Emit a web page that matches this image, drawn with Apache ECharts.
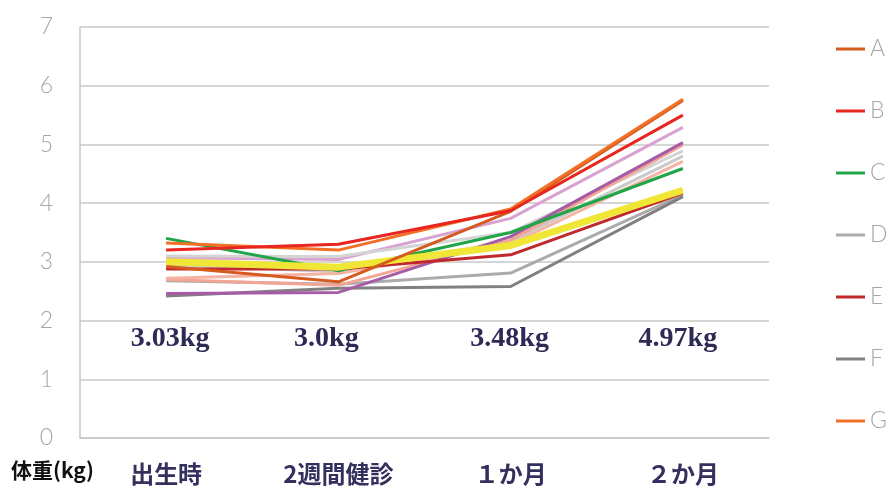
<!DOCTYPE html>
<html><head><meta charset="utf-8">
<script src="https://cdn.jsdelivr.net/npm/echarts@6/dist/echarts.min.js"></script>
<style>html,body{margin:0;padding:0;background:#fff}#c{width:887px;height:488px}</style>
</head><body><div id="c"></div>
<script>
const categories = ['出生時', '2週間健診', '１か月', '２か月'];
const legendNames = ['A', 'B', 'C', 'D', 'E', 'F', 'G'];
const seriesA = [2.92, 2.66, 3.86, 5.75];
const seriesB = [3.20, 3.30, 3.87, 5.50];
const seriesC = [3.40, 2.85, 3.50, 4.59];
const seriesD = [2.68, 2.62, 2.81, 4.14];
const seriesE = [2.88, 2.88, 3.12, 4.17];
const seriesF = [2.42, 2.55, 2.58, 4.11];
const seriesG = [3.32, 3.20, 3.90, 5.77];
const seriesH = [3.07, 3.04, 3.74, 5.29];
const seriesI = [2.46, 2.48, 3.43, 5.03];
const seriesJ = [3.10, 3.09, 3.50, 4.89];
const seriesK = [2.95, 2.83, 3.35, 4.80];
const seriesL = [2.70, 2.60, 3.37, 4.99];
const seriesM = [2.72, 2.80, 3.30, 4.71];
const seriesN = [3.00, 2.91, 3.28, 4.22];
const averageLabels = ['3.03kg', '3.0kg', '3.48kg', '4.97kg'];
const averageLabelLevel = [1.69, 1.69, 1.69, 1.69];

const lines = [
  {name: 'H', data: seriesH, color: '#d9a3d1', w: 3},
  {name: 'J', data: seriesJ, color: '#d4d4d4', w: 3},
  {name: 'K', data: seriesK, color: '#cacaca', w: 3},
  {name: 'D', data: seriesD, color: '#ababab', w: 3},
  {name: 'F', data: seriesF, color: '#808080', w: 3},
  {name: 'L', data: seriesL, color: '#f3a595', w: 3},
  {name: 'M', data: seriesM, color: '#f5b3a3', w: 3},
  {name: 'I', data: seriesI, color: '#a65ba6', w: 3},
  {name: 'C', data: seriesC, color: '#20a548', w: 3},
  {name: 'E', data: seriesE, color: '#c0282c', w: 3},
  {name: 'N', data: seriesN, color: '#f0e636', w: 7},
  {name: 'A', data: seriesA, color: '#d55a1e', w: 3},
  {name: 'G', data: seriesG, color: '#f26f26', w: 3},
  {name: 'B', data: seriesB, color: '#e8251f', w: 3}
];
const labelOffsets = [[4, 0], [-12, 0], [-1, 0], [-5, 0]];
const annoLabel = {color: '#2e2a56', fontFamily: 'Liberation Serif', fontWeight: 'bold', fontSize: 28};

const chart = echarts.init(document.getElementById('c'));
const series = lines.map(l => ({
  name: l.name, type: 'line', data: l.data, symbol: 'none',
  lineStyle: {color: l.color, width: l.w}, itemStyle: {color: l.color},
  silent: true, animation: false
}));
series.push({
  type: 'scatter', symbolSize: 0, silent: true, animation: false,
  itemStyle: {opacity: 1},
  data: averageLabelLevel.map((v, i) => ({
    value: v,
    label: Object.assign({show: true, position: 'inside', formatter: averageLabels[i], offset: labelOffsets[i]}, annoLabel)
  })),
  label: annoLabel
});
chart.setOption({
  animation: false,
  grid: {left: 80, right: 118, top: 27, bottom: 50},
  legend: {
    data: legendNames, orient: 'vertical', left: 836, top: 37, padding: 0,
    icon: 'rect', itemWidth: 29, itemHeight: 3, itemGap: 38,
    textStyle: {color: '#a6a6a6', fontSize: 23, lineHeight: 24, fontFamily: 'Lato', fontWeight: 300}
  },
  xAxis: {
    type: 'category', data: categories, boundaryGap: true,
    axisLine: {show: true, lineStyle: {color: '#c8c8c8', width: 1.5}},
    axisTick: {show: false},
    axisLabel: {margin: 24, color: '#34305e', fontSize: 24, fontWeight: 'bold', fontFamily: 'Noto Sans CJK JP'}
  },
  yAxis: {
    type: 'value', min: 0, max: 7, interval: 1,
    axisLine: {show: true, lineStyle: {color: '#c8c8c8', width: 1.5}},
    axisTick: {show: false},
    splitLine: {lineStyle: {color: '#c8c8c8', width: 1.5}},
    axisLabel: {margin: 27, color: '#a6a6a6', fontSize: 23, fontFamily: 'Lato', fontWeight: 300}
  },
  graphic: [{
    type: 'text', left: 11, top: 460,
    style: {text: '体重(kg)', fill: '#111', font: 'bold 21px "Noto Sans CJK JP"'}
  }],
  series: series
});
</script></body></html>
